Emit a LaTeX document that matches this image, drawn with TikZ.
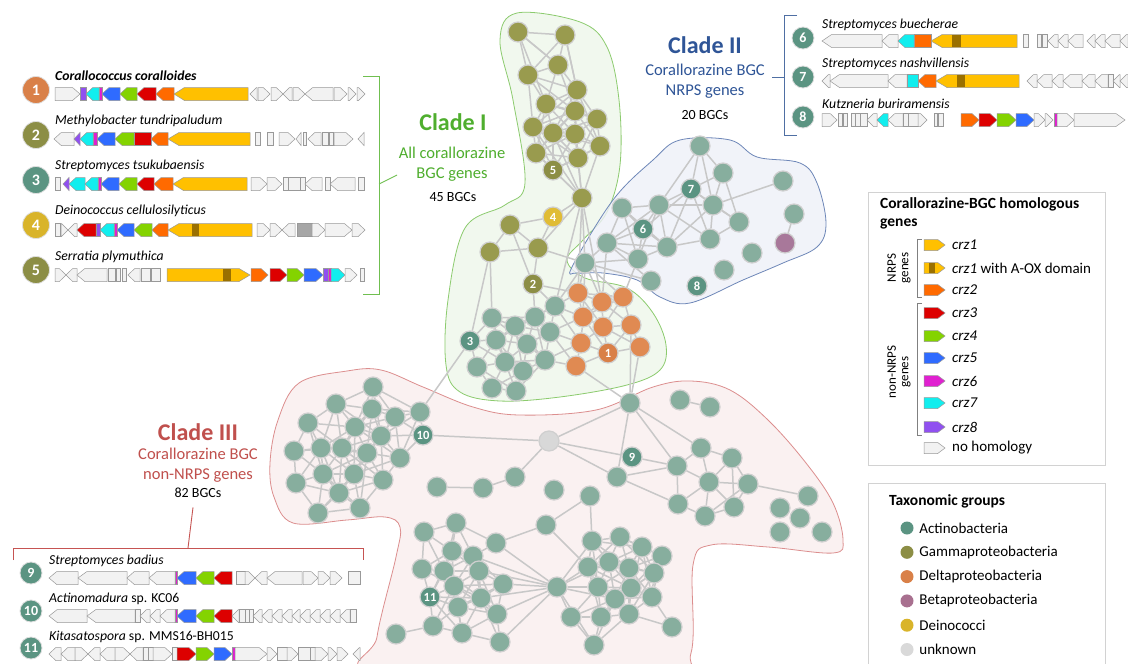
\documentclass[tikz,border=0pt]{standalone}
\usepackage{fontspec}
\setmainfont{Carlito}
\usetikzlibrary{positioning}
\pgfdeclarelayer{hull}
\pgfdeclarelayer{links}
\pgfsetlayers{hull,links,main}

% gene colours
\definecolor{g1}{HTML}{FFC000}
\definecolor{gd}{HTML}{9A7000}
\definecolor{g2}{HTML}{FF6A00}
\definecolor{g3}{HTML}{DD0000}
\definecolor{g4}{HTML}{84D300}
\definecolor{g5}{HTML}{2F6BFF}
\definecolor{g6}{HTML}{E020D0}
\definecolor{g7}{HTML}{11EEEE}
\definecolor{g8}{HTML}{9050F0}
\definecolor{gn}{HTML}{F2F2F2}
\definecolor{gs}{HTML}{A6A6A6}
% taxa
\definecolor{actD}{HTML}{5B9482}
\definecolor{gamD}{HTML}{8C8E45}
\definecolor{delD}{HTML}{D98048}
\definecolor{betD}{HTML}{A8708F}
\definecolor{deiD}{HTML}{D9B42A}
\definecolor{unkD}{HTML}{D9D9D9}
\definecolor{actN}{HTML}{87AE9E}
\definecolor{gamN}{HTML}{999B4E}
\definecolor{delN}{HTML}{E08A52}
\definecolor{betN}{HTML}{A8789A}
\definecolor{deiN}{HTML}{E0BC35}
\definecolor{unkN}{HTML}{D8D8D8}
\definecolor{netrim}{HTML}{CFCFCF}
\definecolor{linkgray}{HTML}{C8C8C8}
% clades
\definecolor{cladeI}{HTML}{4FAE2E}
\definecolor{cladeII}{HTML}{2F5597}
\definecolor{cladeIII}{HTML}{C0504D}
\definecolor{hullIfill}{HTML}{F1F8EE}
\definecolor{hullIline}{HTML}{8CCB6E}
\definecolor{hullIIfill}{HTML}{EEF0F8}
\definecolor{hullIIline}{HTML}{6E87B8}
\definecolor{hullIIIfill}{HTML}{FAF1F1}
\definecolor{hullIIIline}{HTML}{DC8E8E}
\definecolor{brIline}{HTML}{70BF50}
\definecolor{brIIline}{HTML}{4F6FA3}
\definecolor{brIIIline}{HTML}{C65452}

\tikzset{
  net/.style={circle, draw=netrim, line width=1.2pt, minimum size=20pt, inner sep=0pt,
    text=white, font=\fontsize{12.5}{12}\selectfont\bfseries},
  link/.style={draw=linkgray, line width=1.5pt},
  badge/.style={circle, draw=white!75!gray, line width=0.8pt, minimum size=27pt, inner sep=0pt,
    text=white, font=\fontsize{16}{16}\selectfont\bfseries},
  smallbadge/.style={badge, minimum size=22pt, font=\fontsize{14}{14}\selectfont\bfseries},
  species/.style={anchor=west, inner sep=0pt, font=\fontsize{13.7}{15}\selectfont\itshape},
  genebox/.style={draw=gray!80, line width=0.5pt},
  cladetitle/.style={font=\fontsize{24}{26}\selectfont\bfseries},
  cladesub/.style={align=center, font=\fontsize{16.5}{20}\selectfont},
  bgccount/.style={font=\fontsize{14}{15}\selectfont},
  legendbox/.style={draw=gray!35, line width=0.8pt},
  legtext/.style={anchor=west, inner sep=0pt, font=\fontsize{15}{16}\selectfont},
  legtitle/.style={anchor=north west, align=left, inner sep=0pt, font=\fontsize{15.5}{18}\selectfont\bfseries},
  taxdot/.style={circle, minimum size=13pt, inner sep=0pt},
  bracket/.style={line width=0.9pt},
}

% one gene: x1, x2, r/l/n/b, colour, y
\newcommand\gh{6.5}
\newcommand\gene[5]{%
  \pgfmathsetmacro\tip{min(6+0.06*(#2-#1),#2-#1)}%
  \if#3r\filldraw[genebox,fill=#4] (#1,#5-\gh) -- (#2-\tip,#5-\gh) -- (#2,#5) -- (#2-\tip,#5+\gh) -- (#1,#5+\gh) -- cycle;%
  \else\if#3l\filldraw[genebox,fill=#4] (#2,#5-\gh) -- (#1+\tip,#5-\gh) -- (#1,#5) -- (#1+\tip,#5+\gh) -- (#2,#5+\gh) -- cycle;%
  \else\if#3b\fill[#4] (#1,#5-\gh+0.3) rectangle (#2,#5+\gh-0.3);%
  \else\filldraw[genebox,fill=#4] (#1,#5-\gh) rectangle (#2,#5+\gh);%
  \fi\fi\fi}
\newcommand\track[2]{\foreach \ga/\gb/\gd/\gc in {#2}{\gene{\ga}{\gb}{\gd}{\gc}{#1}}}

% network nodes and links
\newcommand\placenet[1]{\foreach \nn/\nx/\ny/\nc/\nl in #1 {\node[net, fill=\nc] (\nn) at (\nx,\ny) {\nl};}}
\newcommand\mesh[2]{%
  \foreach \na/\xa/\ya/\ca/\la [count=\ia] in #2 {
    \foreach \nb/\xb/\yb/\cb/\lb [count=\ib] in #2 {
      \ifnum\ib>\ia
        \pgfmathtruncatemacro\near{veclen(\xb-\xa,\yb-\ya)<#1}
        \ifnum\near=1 \draw[link] (\na) -- (\nb);\fi
      \fi}}}

\def\netA{a1/518/32/gamN/{}, a2/565/35/gamN/{}, a3/558/65/gamN/{}, a4/528/75/gamN/{},
  a5/577/90/gamN/{}, a6/546/104/gamN/{}, a7/575/111/gamN/{}, a8/597/119/gamN/{},
  a9/533/127/gamN/{}, a10/553/133/gamN/{}, a11/575/134/gamN/{}, a12/600/146/gamN/{},
  a13/536/153/gamN/{}, a14/578/158/gamN/{}, n5/553/170/gamD/5}
\def\netB{b1/582/198/gamN/{}, n4/553/217/deiN/4, b2/510/225/gamN/{}, b3/490/252/gamN/{},
  b4/538/248/gamN/{}, n2/533/284/gamD/2}
\def\netC{c1/700/146/actN/{}, c2/723/173/actN/{}, n7/691/189/actD/7, c3/622/208/actN/{},
  c4/659/205/actN/{}, c5/713/205/actN/{}, c6/739/222/actN/{}, n6/643/229/actD/6,
  c7/607/243/actN/{}, c8/667/247/actN/{}, c9/638/259/actN/{}, c10/710/239/actN/{},
  c0/585/263/actN/{}}
\def\netCx{c11/651/281/actN/{}, c12/752/253/actN/{}, c13/724/270/actN/{}, n8/697/286/actD/8,
  c14/783/181/actN/{}, c15/794/214/actN/{}, c16/785/243/betN/{}}
\def\netD{d1/578/293/delN/{}, d2/602/302/delN/{}, d3/623/297/delN/{}, d4/583/317/delN/{},
  d5/603/327/delN/{}, d6/631/325/delN/{}, d7/581/343/delN/{}, n1/608/353/delD/1,
  d8/640/347/delN/{}, d9/576/366/delN/{}, e1/555/306/actN/{}, e2/535/317/actN/{},
  e3/492/318/actN/{}, e4/515/326/actN/{}, e5/550/332/actN/{}, n3/470/341/actD/3,
  e6/496/340/actN/{}, e7/527/344/actN/{}, e8/477/367/actN/{}, e9/505/362/actN/{},
  e10/545/360/actN/{}, e11/523/371/actN/{}, e12/492/388/actN/{}, e13/516/391/actN/{}}
\def\netF{f1/373/387/actN/{}, f2/336/404/actN/{}, f3/372/409/actN/{}, f4/395/417/actN/{},
  f5/420/412/actN/{}, f6/308/423/actN/{}, f7/355/427/actN/{}, f8/381/436/actN/{},
  n10/423/435/actD/10, f9/294/451/actN/{}, f10/321/448/actN/{}, f11/342/448/actN/{},
  f12/367/453/actN/{}, f13/400/458/actN/{}, f14/323/474/actN/{}, f15/354/474/actN/{},
  f16/383/480/actN/{}, f17/296/483/actN/{}, f18/339/493/actN/{}, f19/318/513/actN/{},
  f20/360/508/actN/{}}
\def\netM{u/549/441/unkN/{}, m1/630/403/actN/{}, n9/632/457/actD/9, m2/617/477/actN/{},
  m3/515/477/actN/{}, m4/483/488/actN/{}, m5/437/487/actN/{}, m6/554/490/actN/{},
  m7/680/400/actN/{}, m8/710/407/actN/{}, k1/590/496/actN/{}, k2/546/525/actN/{},
  k3/496/543/actN/{}, h0/557/587/actN/{}, r1/808/496/actN/{}, r2/780/508/actN/{},
  r3/800/518/actN/{}, r4/780/532/actN/{}, r5/822/532/actN/{}, h15/396/634/actN/{}}
\def\netG{q1/701/448/actN/{}, q2/732/458/actN/{}, q3/677/466/actN/{}, q4/709/482/actN/{},
  q5/748/484/actN/{}, q6/678/504/actN/{}, q7/734/507/actN/{}, q8/705/516/actN/{}}
\def\netH{h1/424/532/actN/{}, h2/456/523/actN/{}, h3/452/551/actN/{}, h4/473/556/actN/{},
  h5/422/569/actN/{}, h6/444/571/actN/{}, h7/479/571/actN/{}, h8/503/584/actN/{},
  h9/454/586/actN/{}, n11/430/597/actD/11, h10/481/598/actN/{}, h11/458/607/actN/{},
  h12/497/614/actN/{}, h13/433/626/actN/{}, h14/462/633/actN/{}, h16/500/642/actN/{}}
\def\netI{i1/592/541/actN/{}, i2/620/537/actN/{}, i3/642/547/actN/{}, i4/662/556/actN/{},
  i5/588/567/actN/{}, i6/609/562/actN/{}, i7/629/568/actN/{}, i8/654/573/actN/{},
  i9/598/587/actN/{}, i10/631/588/actN/{}, i11/652/597/actN/{}, i12/615/599/actN/{},
  i13/571/617/actN/{}, i14/601/617/actN/{}, i15/629/614/actN/{}, i16/672/627/actN/{},
  i17/594/645/actN/{}}

\begin{document}
\begin{tikzpicture}[x=1pt, y=-1pt]
\useasboundingbox (0,0) rectangle (1128,664);

% clade hulls
\begin{pgfonlayer}{hull}
  \fill[white] (0,0) rectangle (1128,664);
  \filldraw[fill=hullIfill, draw=hullIline, line width=0.8pt] plot[smooth cycle, tension=0.6] coordinates {
    (517,13) (580,22) (607,47) (619,100) (620,165) (607,212) (583,240) (567,260) (585,278)
    (627,288) (653,313) (666,345) (660,370) (627,385) (560,397) (500,401) (460,392) (446,365)
    (448,300) (465,228) (505,205) (525,183) (513,100) (500,40)};
  \filldraw[fill=hullIIIfill, draw=hullIIIline, line width=0.8pt] plot[smooth cycle, tension=0.6] coordinates {
    (299,383) (347,371) (381,370) (423,387) (473,407) (519,415) (596,410) (653,387) (691,381)
    (730,390) (768,420) (806,463) (833,503) (843,540) (833,553) (768,547) (711,545) (693,565)
    (691,653) (660,672) (380,672) (377,637) (396,557) (400,527) (385,517) (347,520) (293,523)
    (274,497) (270,463) (278,420)};
  \filldraw[fill=hullIIfill, fill opacity=0.8, draw=hullIIline, line width=0.8pt] plot[smooth cycle, tension=0.6] coordinates {
    (572,267) (613,200) (653,160) (680,140) (730,140) (757,157) (800,163) (817,183) (826,223)
    (817,247) (783,263) (743,280) (690,303) (660,297) (637,280) (603,273) (577,273)};
\end{pgfonlayer}

% network
\placenet\netA \placenet\netB \placenet\netC \placenet\netCx \placenet\netD
\placenet\netF \placenet\netM \placenet\netG \placenet\netH \placenet\netI

\begin{pgfonlayer}{links}
  \mesh{62}\netA \mesh{50}\netB \mesh{66}\netC \mesh{46}\netD
  \mesh{56}\netF \mesh{55}\netG \mesh{52}\netH \mesh{52}\netI
  \foreach \u/\v in {b1/a9, b1/a10, b1/a11, b1/a12, b1/a13, b1/a14, b1/n5, a1/a3, a1/a6, a2/a5,
      b1/b4, b2/n2, b1/c0, b4/c0, b1/d1, b1/d2, b1/e1, n2/e1, n2/e2, n2/d1, b3/e3, b3/n3,
      c0/d1, c0/d2, c0/d3, c0/d4, c0/e1, c9/d3, c7/d2,
      c1/c4, c5/c14, c15/c16, c0/c11, c7/c11,
      f5/n3, n10/u, u/m1, u/n9, n9/q3, u/m2, u/m3, m3/m4, m4/m5, m7/m8, m1/m2, m1/q1, m1/q3,
      m2/q3, m2/q6, m1/d9, m1/d8, m1/d6, q5/r1, k1/k2, k1/i1, k2/k3, k2/i5, k3/h2, k3/h4,
      k3/h0, h0/h7, h0/h8, h0/h10, h0/h12, h0/h16, h0/h4, h0/i1, h0/i5, h0/i6, h0/i9,
      h0/i13, h0/i17, h0/i12, h15/h13}
    \draw[link] (\u) -- (\v);
\end{pgfonlayer}

% clade labels
\node[cladetitle, text=cladeI] (cI) at (453,122) {Clade I};
\node[cladesub, text=cladeI] (cIs) at (452,164) {All corallorazine\\BGC genes};
\node[bgccount] (cIn) at (453,197) {45 BGCs};
\node[cladetitle, text=cladeII] (cII) at (705,45) {Clade II};
\node[cladesub, text=cladeII] (cIIs) at (705,81) {Corallorazine BGC\\NRPS genes};
\node[bgccount] (cIIn) at (705,115) {20 BGCs};
\node[cladetitle, text=cladeIII] (cIII) at (198,432) {Clade III};
\node[cladesub, text=cladeIII] (cIIIs) at (198,465) {Corallorazine BGC\\non-NRPS genes};
\node[bgccount] (cIIIn) at (198,493) {82 BGCs};

% brackets
\draw[bracket, brIline] (363,76) -- (379,76) -- (379,294) -- (363,294);
\coordinate (brI) at (379,184);
\coordinate (tipI) at (397,175);
\draw[bracket, brIline] (brI) -- (tipI);
\draw[bracket, brIIline] (797,15) -- (784,15) -- (784,135) -- (797,135);
\coordinate (brII) at (784,77);
\coordinate (tipII) at (772,77);
\draw[bracket, brIIline] (brII) -- (tipII);
\draw[bracket, brIIIline] (13,560) -- (13,548) -- (363,548) -- (363,560);
\coordinate (brIII) at (188,548);
\draw[bracket, brIIIline] (brIII) -- ([xshift=-5pt,yshift=-6pt]cIIIn.south);

% clade I gene clusters
\node[badge, fill=delD] (bd1) at (36,90) {1};
\node[species, font=\fontsize{13.7}{15}\selectfont\bfseries\itshape] (sp1) at (55,76) {Corallococcus coralloides};
\track{94}{55/80/r/gn, 80/86/n/g8, 86/99/l/g7, 99/102/n/g6, 102/120/l/g5, 120/137/l/g4,
  137/156/l/g3, 156/174/l/g2, 174/248/l/g1, 250/257/l/gn, 258/270/r/gn, 271/283/r/gn,
  283/292/l/gn, 293/305/r/gn, 305/333/l/gn, 334/347/r/gn, 348/356/r/gn, 357/365/r/gn}
\node[badge, fill=gamD] (bd2) at (36,135) {2};
\node[species] (sp2) at (55,121) {Methylobacter tundripaludum};
\track{139}{54/74/l/gn, 74/80/l/g8, 80/93/l/g7, 93/97/n/g6, 97/115/l/g5, 115/134/l/g4,
  134/151/n/g3, 151/168/l/g2, 168/250/l/g1, 255/260/n/gn, 267/273/n/gn, 279/295/r/gn,
  296/301/l/gn, 303/306/n/gn, 308/321/l/gn, 322/328/n/gn, 329/333/n/gn, 334/353/r/gn, 358/364/l/gn}
\node[badge, fill=actD] (bd3) at (36,180) {3};
\node[species] (sp3) at (55,166) {Streptomyces tsukubaensis};
\track{184}{55/60/n/gn, 63/69/l/g8, 69/85/l/g7, 85/98/l/g7, 98/101/n/g6, 101/119/l/g5,
  119/137/l/g4, 137/154/l/g3, 154/173/l/g2, 173/247/l/g1, 251/267/r/gn, 267/282/r/gn,
  283/288/n/gn, 288/300/n/gn, 300/305/n/gn, 305/322/l/gn, 325/330/n/gn, 330/355/l/gn, 358/364/n/gn}
\node[badge, fill=deiD] (bd4) at (36,225) {4};
\node[species] (sp4) at (55,211) {Deinococcus cellulosilyticus};
\track{230}{55/60/n/gn, 61/68/r/gn, 68/77/l/gn, 77/96/l/g3, 96/100/n/g8, 100/114/l/g7,
  114/117/n/g6, 117/134/l/g5, 134/152/l/g4, 152/168/l/g2, 168/252/l/g1, 192/199/b/gd,
  257/270/r/gn, 270/282/r/gn, 282/295/l/gn, 297/312/n/gs, 312/325/r/gn, 325/352/r/gn, 352/365/r/gn}
\node[badge, fill=gamD] (bd5) at (36,270) {5};
\node[species] (sp5) at (55,257) {Serratia plymuthica};
\track{275}{55/66/r/gn, 66/77/l/gn, 77/107/l/gn, 108/115/n/gn, 116/120/n/gn, 122/126/n/gn,
  128/140/l/gn, 141/150/n/gn, 151/160/n/gn, 167/250/r/g1, 223/231/b/gd, 251/268/r/g2,
  270/287/r/g3, 287/304/r/g4, 304/323/r/g5, 323/328/n/g8, 328/331/n/g6, 331/345/r/g7,
  345/357/r/gn, 360/364/n/gn}

% clade II gene clusters
\node[smallbadge, fill=actD] (bd6) at (803,38) {6};
\node[species] (sp6) at (822,25) {Streptomyces buecherae};
\track{41}{822/882/l/gn, 882/898/l/gn, 898/914/l/g7, 914/931/n/g2, 931/1017/l/g1, 952/961/b/gd,
  1023/1028/n/gn, 1037/1041/n/gn, 1042/1047/n/gn, 1048/1058/l/gn, 1058/1068/l/gn,
  1068/1083/l/gn, 1087/1095/l/gn, 1095/1105/l/gn, 1105/1120/l/gn, 1120/1128/l/gn}
\node[smallbadge, fill=actD] (bd7) at (803,77) {7};
\node[species] (sp7) at (822,64) {Streptomyces nashvillensis};
\track{81}{822/830/l/gn, 830/888/l/gn, 888/907/l/gn, 907/918/n/g7, 918/936/l/g2, 936/1019/l/g1,
  957/965/b/gd, 1027/1037/l/gn, 1037/1052/l/gn, 1052/1063/l/gn, 1063/1082/l/gn,
  1082/1095/l/gn, 1095/1108/l/gn, 1108/1113/n/gn, 1113/1120/l/gn, 1120/1128/l/gn}
\node[smallbadge, fill=actD] (bd8) at (803,117) {8};
\node[species] (sp8) at (822,104) {Kutzneria buriramensis};
\track{120}{822/837/r/gn, 838/842/n/gn, 843/847/n/gn, 851/855/n/gn, 855/860/n/gn, 860/867/n/gn,
  867/877/l/gn, 877/888/l/g7, 888/903/l/gn, 903/908/n/gn, 908/918/n/gn, 918/927/r/gn,
  934/937/n/gn, 938/943/n/gn, 961/979/r/g2, 979/997/r/g3, 997/1016/r/g4, 1016/1034/r/g5,
  1034/1045/r/gn, 1045/1053/r/gn, 1054/1057/n/g6, 1057/1074/r/gn, 1074/1125/r/gn}

% clade III gene clusters
\node[smallbadge, fill=actD] (bd9) at (31,573) {9};
\node[species] (sp9) at (49,561) {Streptomyces badius};
\track{578}{49/78/l/gn, 78/127/l/gn, 127/149/l/gn, 149/175/l/gn, 175/177/n/g6, 177/196/l/g5,
  196/214/l/g4, 214/232/l/g3, 236/245/n/gn, 245/255/r/gn, 255/267/l/gn, 267/302/l/gn,
  303/318/r/gn, 318/330/r/gn, 330/342/r/gn, 348/360/n/gn}
\node[smallbadge, fill=actD] (bd10) at (31,611) {10};
\node[species] (sp10) at (49,599) {Actinomadura \textup{sp. KC06}};
\track{616}{49/87/l/gn, 87/135/l/gn, 135/140/n/gn, 140/150/l/gn, 150/160/l/gn, 160/175/l/gn,
  175/177/n/g6, 177/196/l/g5, 196/214/l/g4, 214/232/l/g3, 232/239/l/gn, 239/245/n/gn,
  245/249/n/gn, 249/253/n/gn, 253/262/l/gn, 262/272/l/gn, 272/282/l/gn, 282/292/l/gn,
  292/300/l/gn, 300/310/l/gn, 310/320/l/gn, 320/330/l/gn, 330/340/l/gn, 340/350/l/gn, 350/356/n/gn}
\node[smallbadge, fill=actD] (bd11) at (31,648) {11};
\node[species] (sp11) at (49,637) {Kitasatospora \textup{sp. MMS16-BH015}};
\track{654}{49/61/l/gn, 61/75/l/gn, 75/88/r/gn, 88/100/l/gn, 100/115/l/gn, 115/130/r/gn,
  130/143/l/gn, 143/148/n/gn, 148/153/n/gn, 153/172/r/gn, 172/177/n/gn, 177/196/r/g3,
  196/214/r/g4, 214/232/r/g5, 232/235/n/g6, 235/267/r/gn, 267/277/r/gn, 277/287/n/gn,
  287/298/r/gn, 298/310/n/gn, 310/315/n/gn, 315/328/r/gn, 328/337/r/gn, 337/348/r/gn, 353/360/l/gn}

% legend: homologous genes
\draw[legendbox] (868,192) rectangle (1105,465);
\node[legtitle] (lgA) at (880,197) {Corallorazine-BGC homologous\\genes};
\begin{scope}
  \renewcommand\gh{5.5}
  \foreach \gc/\yy/\gl in {g1/245/\textit{crz1}, g2/290/\textit{crz2}, g3/313/\textit{crz3},
      g4/336/\textit{crz4}, g5/358/\textit{crz5}, g6/381/\textit{crz6}, g7/403/\textit{crz7},
      g8/427/\textit{crz8}, gn/448/no homology}{
    \gene{924}{945}{r}{\gc}{\yy}
    \node[legtext] (lg\gc) at (952,\yy) {\gl};
  }
  \gene{924}{945}{r}{g1}{268}
  \gene{929}{935}{b}{gd}{268}
  \node[legtext] (lgaox) at (952,268) {\textit{crz1} with A-OX domain};
\end{scope}
\draw[bracket, gray] (922,239) -- (917,239) -- (917,297) -- (922,297);
\draw[bracket, gray] (922,303) -- (917,303) -- (917,435) -- (922,435);
\node[rotate=90, align=center, font=\fontsize{13}{12.5}\selectfont] (nrps) at (899,268) {NRPS\\genes};
\node[rotate=90, align=center, font=\fontsize{13}{12.5}\selectfont] (nonnrps) at (899,372) {non-NRPS\\genes};

% legend: taxonomic groups
\draw[legendbox] (868,483) rectangle (1105,680);
\node[legtitle] (lgB) at (889,494) {Taxonomic groups};
\foreach \tx/\tc [count=\k] in {Actinobacteria/actD, Gammaproteobacteria/gamD,
    Deltaproteobacteria/delD, Betaproteobacteria/betD, Deinococci/deiD, unknown/unkD}{
  \node[taxdot, fill=\tc] (tx\k) at (907,{528+24.3*(\k-1)}) {};
  \node[legtext, right=5.5pt of tx\k] (tl\k) {\tx};
}
\end{tikzpicture}
\end{document}
